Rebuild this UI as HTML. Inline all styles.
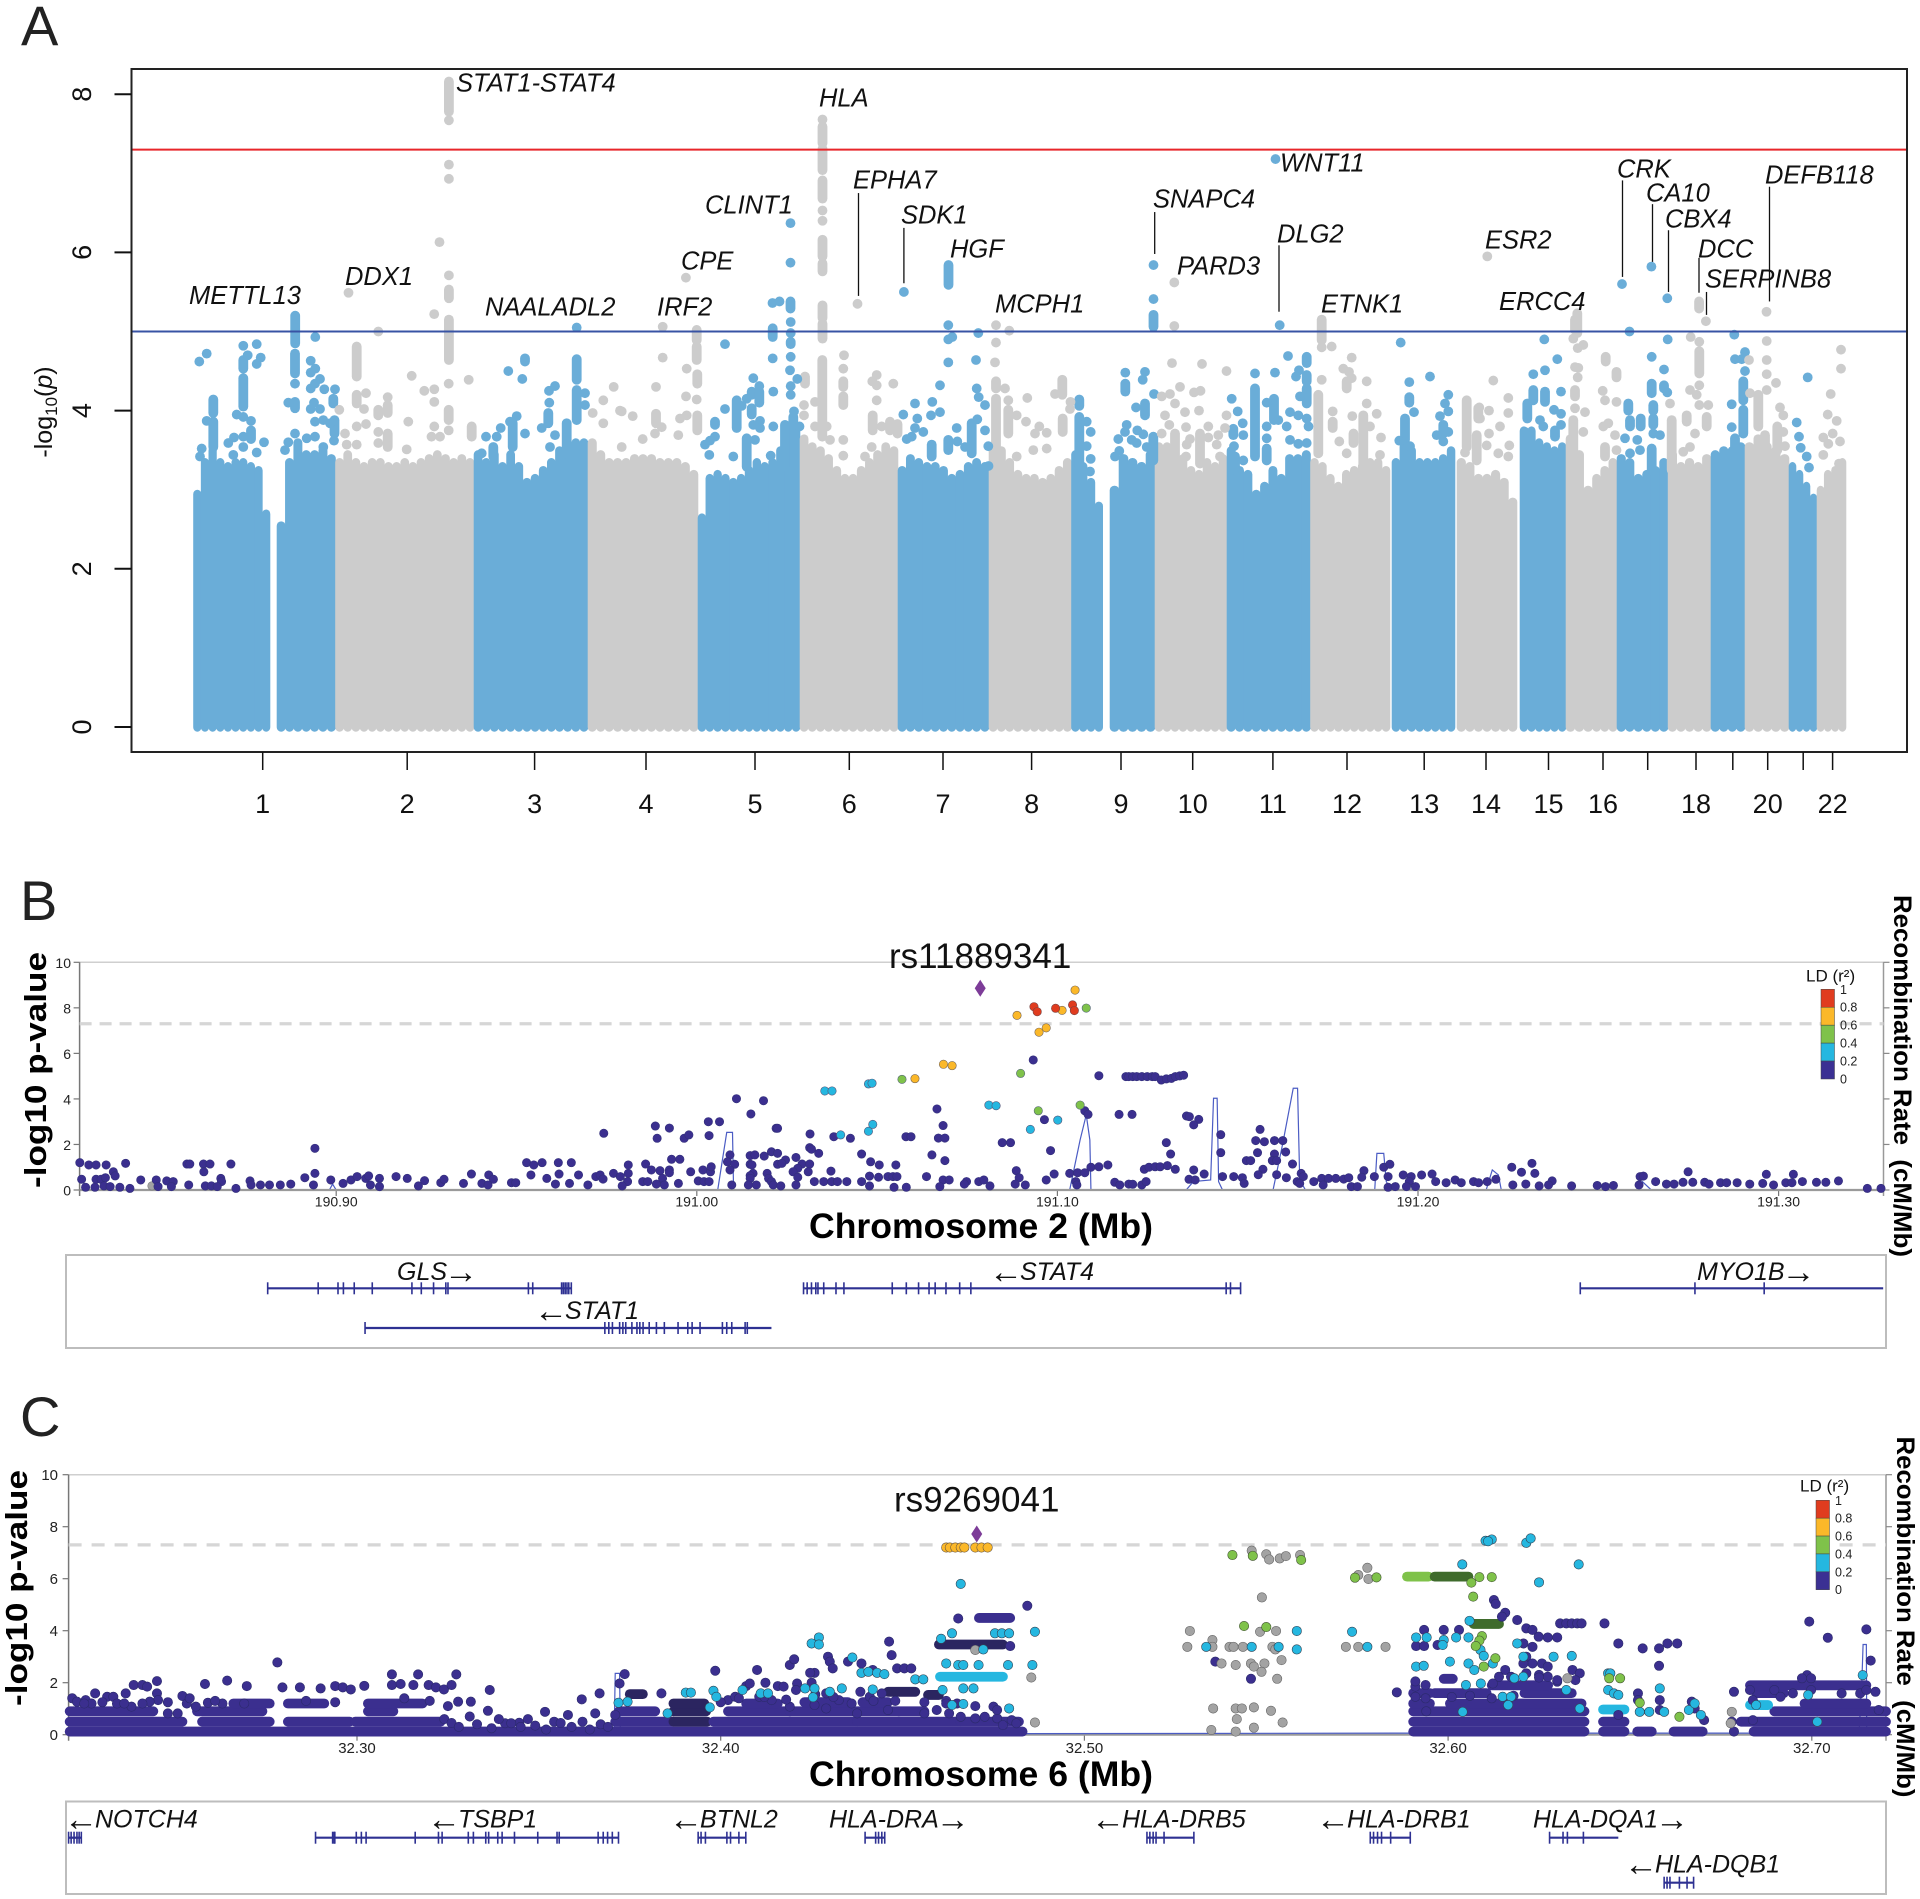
<!DOCTYPE html>
<html lang="en">
<head>
<meta charset="utf-8">
<title>GWAS Manhattan and regional association plots</title>
<style>
html,body{margin:0;padding:0;background:#fff;}
svg{display:block;font-family:"Liberation Sans",Arial,sans-serif;}
.gene{font-style:italic;font-size:25px;fill:#111;}
.arr{font-style:normal;font-size:34px;}
.hit{font-style:italic;font-size:25.5px;fill:#111;}
.bold{font-weight:bold;fill:#000;}
</style>
</head>
<body>
<svg id="fig" width="1920" height="1899" viewBox="0 0 1920 1899">
<rect x="0" y="0" width="1920" height="1899" fill="#fff"/>

<text x="21" y="45" font-size="56" fill="#222">A</text>
<text x="20" y="920" font-size="56" fill="#222">B</text>
<text x="20" y="1436" font-size="56" fill="#222">C</text>

<g id="panelA"></g>
<g id="panelALabels">
<text class="hit" x="456" y="91.7">STAT1-STAT4</text>
<text class="hit" x="189" y="304">METTL13</text>
<text class="hit" x="345" y="285">DDX1</text>
<text class="hit" x="485" y="315.7">NAALADL2</text>
<text class="hit" x="657" y="315.7">IRF2</text>
<text class="hit" x="681" y="269.3">CPE</text>
<text class="hit" x="705" y="213.3">CLINT1</text>
<text class="hit" x="819" y="106.7">HLA</text>
<text class="hit" x="853" y="188.3">EPHA7</text>
<text class="hit" x="901" y="223.3">SDK1</text>
<text class="hit" x="950" y="257.3">HGF</text>
<text class="hit" x="1280" y="171.7">WNT11</text>
<text class="hit" x="1153" y="207.3">SNAPC4</text>
<text class="hit" x="1177" y="274.3">PARD3</text>
<text class="hit" x="1277" y="242.3">DLG2</text>
<text class="hit" x="995" y="312.7">MCPH1</text>
<text class="hit" x="1321" y="312.7">ETNK1</text>
<text class="hit" x="1485" y="248.3">ESR2</text>
<text class="hit" x="1499" y="310">ERCC4</text>
<text class="hit" x="1617" y="177.7">CRK</text>
<text class="hit" x="1646" y="201.7">CA10</text>
<text class="hit" x="1665" y="227.7">CBX4</text>
<text class="hit" x="1698" y="257.7">DCC</text>
<text class="hit" x="1705" y="287.7">SERPINB8</text>
<text class="hit" x="1765" y="183.3">DEFB118</text>
</g>
<text transform="translate(52,412) rotate(-90)" text-anchor="middle" font-size="25" fill="#111">-log<tspan dy="5" font-size="17">10</tspan><tspan dy="-5">(</tspan><tspan font-style="italic">p</tspan>)</text>

<g id="panelB"></g>
<text x="889" y="968" font-size="35" fill="#111">rs11889341</text>
<text class="bold" transform="translate(46,1070) rotate(-90)" text-anchor="middle" font-size="31" textLength="236" lengthAdjust="spacingAndGlyphs">-log10 p-value</text>
<text class="bold" x="809" y="1238" font-size="35" textLength="344" lengthAdjust="spacingAndGlyphs">Chromosome 2 (Mb)</text>
<text class="bold" transform="translate(1894,1076) rotate(90)" text-anchor="middle" font-size="25" textLength="362" lengthAdjust="spacingAndGlyphs" xml:space="preserve">Recombination Rate  (cM/Mb)</text>
<rect x="66" y="1255" width="1820" height="93" fill="none" stroke="#bdbdbd" stroke-width="2"/>
<text class="gene" x="397" y="1280">GLS<tspan class="arr" dy="3" dx="-3">→</tspan></text>
<text class="gene" x="534" y="1319"><tspan class="arr" dy="3">←</tspan><tspan dy="-3" dx="-3">STAT1</tspan></text>
<text class="gene" x="989" y="1280"><tspan class="arr" dy="3">←</tspan><tspan dy="-3" dx="-3">STAT4</tspan></text>
<text class="gene" x="1697" y="1280">MYO1B<tspan class="arr" dy="3" dx="-3">→</tspan></text>

<g id="panelC"></g>
<text x="894" y="1511.7" font-size="35" fill="#111">rs9269041</text>
<text class="bold" transform="translate(27,1588) rotate(-90)" text-anchor="middle" font-size="31" textLength="236" lengthAdjust="spacingAndGlyphs">-log10 p-value</text>
<text class="bold" x="809" y="1786" font-size="35" textLength="344" lengthAdjust="spacingAndGlyphs">Chromosome 6 (Mb)</text>
<text class="bold" transform="translate(1897,1617) rotate(90)" text-anchor="middle" font-size="25" textLength="361" lengthAdjust="spacingAndGlyphs" xml:space="preserve">Recombination Rate  (cM/Mb)</text>
<rect x="66" y="1801.5" width="1820" height="92.5" fill="none" stroke="#bdbdbd" stroke-width="2"/>
<text class="gene" x="64" y="1827.3"><tspan class="arr" dy="3">←</tspan><tspan dy="-3" dx="-3">NOTCH4</tspan></text>
<text class="gene" x="427" y="1827.3"><tspan class="arr" dy="3">←</tspan><tspan dy="-3" dx="-3">TSBP1</tspan></text>
<text class="gene" x="669" y="1827.3"><tspan class="arr" dy="3">←</tspan><tspan dy="-3" dx="-3">BTNL2</tspan></text>
<text class="gene" x="829" y="1827.3">HLA-DRA<tspan class="arr" dy="3" dx="-3">→</tspan></text>
<text class="gene" x="1091" y="1827.3"><tspan class="arr" dy="3">←</tspan><tspan dy="-3" dx="-3">HLA-DRB5</tspan></text>
<text class="gene" x="1316" y="1827.3"><tspan class="arr" dy="3">←</tspan><tspan dy="-3" dx="-3">HLA-DRB1</tspan></text>
<text class="gene" x="1533" y="1827.3">HLA-DQA1<tspan class="arr" dy="3" dx="-3">→</tspan></text>
<text class="gene" x="1624" y="1872.3"><tspan class="arr" dy="3">←</tspan><tspan dy="-3" dx="-3">HLA-DQB1</tspan></text>
</svg>

<script>
/* ---------- Panel A: Manhattan ---------- */
const armChrom=[1,1,2,3,4,5,6,7,8,9,9,10,11,12,13,14,15,16,16,17,18,19,20,21,22];
const armStart=[0,83.5,142,280.5,394.5,504.5,606.5,704.5,795.5,878,916.5,961.5,1033.5,1117,1198.5,1263.5,1326.5,1372.5,1399,1423.5,1474.6,1517.5,1551.5,1595.5,1623.5];
const armEnd=[76.5,142,280.5,394.5,504.5,606.5,704.5,795.5,878,909.2,961.5,1033.5,1117,1196.5,1261.5,1323.5,1372.5,1399,1423.5,1474.6,1517.5,1551.5,1595.5,1623.5,1652.5];
const armDenseTop=[
[3.0,3.4,3.55,3.4,3.35,3.4,3.4,3.35,3.3,2.75],
[2.6,3.4,3.65,3.5,3.5,3.55,3.45],
[3.4,3.5,3.4,3.35,3.4,3.4,3.35,3.35,3.4,3.35,3.4,3.45,3.5,3.45,3.4,3.45,3.4],
[3.5,3.4,3.5,3.35,3.5,3.35,3.15,3.2,3.3,3.4,3.55,3.6,3.65,3.65],
[3.65,3.5,3.4,3.4,3.4,3.45,3.45,3.45,3.4,3.4,3.4,3.35,3.25],
[2.7,3.2,3.25,3.2,3.15,3.2,3.3,3.4,3.35,3.4,3.55,3.7,3.8],
[3.7,3.6,3.55,3.45,3.3,3.2,3.2,3.3,3.4,3.5,3.6,3.55],
[3.3,3.45,3.4,3.35,3.35,3.3,3.2,3.25,3.35,3.4,3.35],
[3.6,3.55,3.4,3.25,3.2,3.2,3.15,3.2,3.3,3.4],
[3.5,3.35,3.15,2.85],
[3.05,3.45,3.4,3.35,3.5],
[3.6,3.6,3.55,3.45,3.3,3.25,3.4,3.35,3.45],
[3.55,3.3,3.25,3.0,3.1,3.3,3.2,3.45,3.45,3.5],
[3.4,3.35,3.2,3.1,3.25,3.3,3.35,3.4,3.4,3.3],
[3.4,3.6,3.55,3.4,3.4,3.4,3.45,3.55],
[3.4,3.35,3.2,3.2,3.25,3.15,2.9],
[3.8,3.8,3.65,3.6,3.55,3.6],
[3.7,3.5,3.05],
[3.2,3.3,3.4],
[3.45,3.4,3.2,3.25,3.3,3.4],
[3.5,3.35,3.4,3.35,3.45],
[3.5,3.55,3.55,3.6],
[3.6,3.7,3.6,3.55,3.45],
[3.35,3.25,3.1,2.95],
[3.05,3.25,3.3,3.4]];

const snpPosTop=[155,246,240.7,492.4,579,586,664,710.4,960,960,980.8,1082,1293.8,1428.5,1457.9,1473.8,1512.4,1573,255.4,255.4,255.4,255.4,597,597,629,629,629];
const snpLogTop=[5.49,6.13,5.22,5.68,5.36,5.38,5.35,5.5,5.84,5.41,5.62,7.18,5.95,5.6,5.82,5.42,5.13,5.25,7.67,7.11,6.93,5.71,6.37,5.87,7.68,6.53,6.4];
const snpPosChr1=[5.8,13.2,49.8,63.2,54.2,67.2,63.2,13.2,43.2,49.8,57.5,49.8,40.5,34.8,70.5,63.2,49.8,39.8,8.2,6.5,101.5,94.8,121.8,117.2,121.8,117.2,126.5,121.5,117.2,130.8,141.5,120.5,117.2,126.5,121.5,129.8,136.5,140.5,101.5,94.8,113.2,121.5,129.8,91.5];
const snpLogChr1=[4.62,4.72,4.82,4.84,4.7,4.67,4.59,3.87,3.95,3.92,3.87,3.67,3.66,3.59,3.6,3.47,3.54,3.44,3.52,3.42,4.34,4.1,4.93,4.63,4.53,4.48,4.4,4.34,4.28,4.27,4.27,4.1,4.02,4.02,3.86,3.88,3.84,3.62,3.71,3.6,3.65,3.67,3.54,3.5];
const snpPosChr2=[184.8,172.5,170.5,194.2,163.2,172.5,184.8,184.8,218.2,230.8,240.8,240.8,255.2,275.2,214.8,240.8,255.2,238,246.5,151.5,145.8,213.2,163.2,153.2];
const snpLogChr2=[5,4.22,4.02,4.17,3.8,3.83,3.73,3.59,4.44,4.25,4.27,4.11,4.34,4.39,3.86,3.8,3.75,3.67,3.67,3.71,4.01,3.51,3.57,3.57];
const snpPosChr3=[314.8,328.8,383.2,361.5,355.5,355.8,391.5,391.5,323.2,316.5,307.2,331.5,292.5,303.2,348.2,361.5,356.5,288.2,420.2,409.8,399.2,426.5,409.8];
const snpLogChr3=[4.5,4.4,5.05,4.31,4.25,4.1,4.22,4.07,3.93,3.86,3.78,3.71,3.67,3.67,3.78,3.69,3.54,3.46,4.3,4.13,3.97,4,3.84];
const snpPosChr4=[469.2,469.2,493.2,462.5,492.5,503.2,428.2,439.2,493.2,486.5,468.2,461.5,484.8,449.2,428.2];
const snpLogChr4=[5.06,4.67,4.53,4.3,4.18,4.14,3.99,3.93,3.94,3.9,3.79,3.71,3.69,3.64,3.54];
const snpPosChr5=[531.5,579.2,597.2,597.2,597.2,596.5,603.8,597.2,597.2,579.8,559.8,553.2,531.5,548.2,566.5,559.8,566.5,579.8,521.5,516.5,511.5,515.8,561.5,539.8,577.2,600.5,606,565.8];
const snpLogChr5=[4.84,4.66,5.12,4.98,4.68,4.51,4.4,4.31,4.2,4.24,4.41,4.15,4.02,4.06,3.87,3.82,3.78,3.8,3.67,3.62,3.57,3.44,3.63,3.42,3.43,3.99,3.8,4.31];
const snpPosChr6=[621.5,633.2,621.5,610.5,610.5,650.5,649.8,683.2,678.8,683.2,699.8,683.2,688.2,649.8,649.8,636.5,678.2,671.5];
const snpLogChr6=[3.8,3.8,4.11,4.07,3.94,4.7,4.53,4.45,4.37,4.32,4.34,4.13,3.8,3.63,3.43,3.63,3.54,3.42];
const snpPosChr7=[709.8,721.5,738.8,746.5,746.5,737.5,723.8,721.5,718.2,713.2,729.8,754.8,754.8,758.8,784.8,754.8,782.5,783.2,785.2,791.5,763.2,763.8,771.5,783.8,791.5,794.8,795];
const snpLogChr7=[3.95,4.09,4.11,4.32,3.98,3.94,3.9,3.78,3.67,3.64,3.73,5.08,4.9,4.93,4.98,4.61,4.64,4.28,4.17,4.07,3.78,3.61,3.54,3.89,3.75,3.55,3.3];
const snpPosChr8=[802.5,815.8,802.5,801.5,811.5,814.8,823.2,833.8,832.5,845.8,841.5,853.2,839.8,853.2,823.2,861.5,877,876.5];
const snpLogChr8=[5.08,5.01,4.86,4.61,4.28,4.13,3.94,4.16,3.86,3.8,3.71,3.72,3.5,3.52,3.42,4.21,4.11,4.02];
const snpPosChr9=[893.2,897.2,893.2,897.2,896.5,931.8,951.5,949.2,960.5,942.5,933.2,931.5,943.8,949.8,924.8,938.2,953.2,943.2,925.8,921.5];
const snpLogChr9=[3.86,3.73,3.55,3.39,3.23,4.48,4.49,4.39,4.21,4.04,3.82,3.73,3.75,3.7,3.64,3.63,3.54,3.59,3.49,3.42];
const snpPosChr10=[980.8,978.5,1008.5,986.5,1000.5,1007,968.2,976.5,981.5,991.5,1005.5,971.5,992.5,975.8,1014.8,968.2,996.5,993.2,1014.8,992.5,1033,1033,1031.5,1024.8,1023.2,1026.5];
const snpLogChr10=[5.07,4.6,4.59,4.3,4.23,4.25,4.18,4.21,4.09,3.98,4,3.94,3.79,3.82,3.8,3.71,3.64,3.57,3.66,3.42,4.5,3.94,3.78,3.69,3.57,3.42];
const snpPosChr11=[1086.2,1094.5,1061.5,1081.5,1105.5,1102.5,1106.5,1038.2,1044.2,1049.2,1049.8,1040.5,1073.2,1084.8,1073.2,1073.2,1096.5,1104.8,1113.2,1093.2,1115,1096.5,1113.2,1104.8,1049.8];
const snpLogChr11=[5.08,4.69,4.47,4.48,4.51,4.43,4.18,4.15,3.99,3.84,3.69,3.55,4.1,3.88,3.8,3.65,3.98,3.94,3.9,3.8,3.8,3.63,3.59,3.58,3.37];
const snpPosChr12=[1128.2,1138.2,1158.2,1149.8,1155.5,1158.2,1173.2,1128.2,1139.2,1145.8,1173.2,1158.8,1183.2,1187.5,1176.5,1153.2,1186.5];
const snpLogChr12=[4.8,4.81,4.67,4.53,4.49,4.41,4.37,4.39,3.99,3.61,4.09,3.93,3.96,3.66,3.8,3.46,3.44];
const snpPosChr13=[1207.2,1236.5,1215.8,1220.5,1254.8,1251.5,1254.8,1246.5,1254.8,1243.2,1205.8,1216.5,1249.8];
const snpLogChr13=[4.86,4.43,4.36,3.98,4.2,4.09,3.99,3.93,3.73,3.69,3.62,3.55,3.61];
const snpPosChr14=[1299.8,1314.8,1285.8,1295.5,1314.8,1286.5,1306.5,1295.5,1293.2,1315.8,1304.8,1314.8,1271.5];
const snpLogChr14=[4.38,4.16,4.04,4,3.97,3.9,3.8,3.71,3.56,3.56,3.46,3.42,3.47];
const snpPosChr15=[1350.8,1363.8,1351.5,1339.8,1367.5,1360.5,1367.5,1346.5,1367.5,1331.5,1349.8];
const snpLogChr15=[4.9,4.65,4.51,4.46,4.24,4.01,3.96,3.88,3.82,3.73,3.8];
const snpPosChr16=[1379.8,1384.2,1389.8,1381.5,1384.8,1384.2,1391.5,1381.5,1389.8,1409.2,1411.5,1423,1409.8,1414.8,1421.5,1423];
const snpLogChr16=[4.91,4.79,4.83,4.55,4.54,4.42,3.98,4.03,3.73,4.25,4.13,4.11,3.8,3.84,3.69,3.5];
const snpPosChr17=[1436,1458.2,1470.5,1474.2,1473.8,1431.5,1443.8,1459.8,1466.5,1446.5,1436.5];
const snpLogChr17=[5,4.68,4.52,4.9,4.23,3.65,3.63,3.71,3.69,3.5,3.46];
const snpPosChr18=[1497.2,1505.8,1505.8,1496.5,1503.2,1505.8,1514.8,1476.5,1501.5,1489.8,1496.5];
const snpLogChr18=[4.93,4.87,4.32,4.26,4.2,4.07,4.07,4.09,3.71,3.48,3.54];
const snpPosChr19=[1540.8,1551.5,1541.5,1548.2,1551.5,1538.2,1538.2];
const snpLogChr19=[4.96,4.74,4.65,4.65,4.5,4.08,3.79];
const snpPosChr20=[1555.5,1573.2,1573.2,1573.2,1582.5,1573.2,1556.5,1586.5,1589.8,1589.8,1591.5];
const snpLogChr20=[4.64,4.88,4.64,4.46,4.35,4.26,4.22,4.04,3.94,3.73,3.55];
const snpPosChr21=[1614.2,1603.2,1605.5,1607.2,1613.2,1615.5];
const snpLogChr21=[4.42,3.85,3.67,3.53,3.42,3.28];
const snpPosChr22=[1647.5,1647.5,1637.2,1634.2,1643.2,1639.2,1629.8,1646.5,1634.8,1629.8,1645.5];
const snpLogChr22=[4.77,4.53,4.21,3.95,3.87,3.71,3.66,3.61,3.58,3.44,3.33];

const columnPosTop=[255.4,255.4,255.4,597,629,629,629,629,629,629,629,755,960,101.7,1128.2,1383.8,1505.6];
const columnHighTop=[8.16,5.53,5.15,5.38,7.59,7.31,6.91,6.16,5.86,5.33,5.1,5.84,5.21,5.2,5.15,5.23,5.38];
const columnLowTop=[7.78,5.42,4.64,5.29,7.38,7.04,6.68,5.95,5.76,5.17,4.91,5.59,5.06,4.85,4.89,4.98,5.29];
const columnPosWest=[49.8,49.8,19.8,19.8,57.5,101.5,101.5,139.8,163.2,163.2,194.2,184.8,194.2,255.2,278.2,331.5,383.2,354.8,383.2,319.2,299.8,373.2,141];
const columnHighWest=[4.64,4.41,4.14,3.86,3.75,4.72,4.11,4.15,4.81,4.2,4.07,4.01,3.71,4.01,3.8,4.66,4.65,3.97,4.26,3.84,3.54,3.84,3.88];
const columnLowWest=[4.53,4.05,3.97,3.54,3.64,4.47,4.03,4.09,4.43,4.09,3.97,3.94,3.54,3.88,3.67,4.62,4.39,3.84,3.88,3.54,3.42,3.46,3.71];
const columnPosMid=[503.2,503.2,503.8,462.5,503.8,579.2,597.2,558.2,565.8,543.2,558.2,521.5,553.2,599.8,591.5,628.8,611.5,649.8,649.8,679.2,696.5,704,738.2,754.8,778.2,802.5,802.5,814.8];
const columnHighMid=[5.02,4.81,4.46,3.96,3.94,5.04,4.87,4.24,4.24,4.13,4.03,3.86,3.65,3.92,3.82,4.64,4.43,4.37,4.18,3.94,3.86,3.83,3.57,3.63,3.84,4.37,4.15,4.01];
const columnLowMid=[4.89,4.64,4.34,3.84,3.75,4.93,4.84,4.2,4.1,3.78,3.95,3.82,3.29,3.29,3.29,3.67,4.34,4.3,4.07,3.75,3.75,3.71,3.42,3.5,3.46,4.28,3.25,3.71];
const columnPosEast=[868.8,869.2,885.8,885.8,931.8,951.5,959.8,981.5,1006.5,1039.8,1061.5,1080.5,1073.2,1041.5,1113.2,1113.2,1113.2,1124.8,1139.2,1153.2,1169.8,1160,1215.8,1249.8,1211.5,1273.2,1284.8];
const columnHighEast=[4.39,3.9,4.14,3.92,4.34,4.09,3.67,3.71,3.71,3.77,4.28,4.15,3.52,3.42,4.68,4.45,4.28,4.2,3.86,4.37,3.94,3.71,4.17,3.82,3.9,4.13,4.03];
const columnLowEast=[4.2,3.73,4.06,3.29,4.24,3.94,3.37,3.25,3.33,3.69,3.42,3.88,3.37,3.25,4.6,4.37,4.09,3.46,3.78,4.28,3.25,3.59,4.1,3.71,3.63,3.54,3.9];
const columnPosFar=[1283.2,1339.8,1351.5,1333.8,1361.5,1381.5,1381.5,1379.8,1412.2,1423,1411.5,1458.2,1470.5,1434.8,1436.5,1447.2,1459.8,1459.8,1458.2,1505.8,1493.2,1513.2,1478.2,1549.8,1549.8,1541.5,1564.8,1571.5,1583.8];
const columnHighFar=[3.69,4.26,4.24,4.09,3.75,5.15,4.26,3.88,4.68,4.49,3.54,4.34,4.32,4.09,3.88,3.9,4.07,3.9,3.52,4.75,3.94,3.92,3.88,4.37,4.01,3.65,4.2,3.69,3.8];
const columnLowFar=[3.37,4.13,4.11,3.9,3.67,5.02,4.18,3.37,4.62,4.42,3.42,4.22,4.28,4,3.8,3.8,4,3.82,3.25,4.47,3.86,3.8,3.25,4.13,3.71,3.54,3.8,3.46,3.5];

const chromTickPos=[69.2,213.7,341.1,452.5,561.5,655.8,749.5,838.1,927.5,999.2,1079.4,1153.5,1230.7,1292.5,1355,1409.5,1454.2,1502.5,1539.3,1574.2,1609.7,1639.1];
const chromTickLabels=['1','2','3','4','5','6','7','8','9','10','11','12','13','14','15','16','','18','','20','','22'];
const manhattanYTicks=[0,2,4,6,8];
const genomeWideLine=7.3;
const suggestiveLine=5;
const leaderPos=[665,710.4,961.2,1085.5,1429,1459,1475,1505.5,1513,1576];
const leaderTop=[6.75,6.31,6.51,6.09,6.91,6.61,6.28,5.93,5.5,6.83];
const leaderBottom=[5.45,5.61,5.98,5.25,5.69,5.88,5.5,5.49,5.21,5.38];

/* ---------- Panel B: chr2 regional plot; positions in kb from 190.90 Mb ---------- */
const bTickKb=[0,100,200,300,400];
const bTickLabels=['190.90','191.00','191.10','191.20','191.30'];
const logTicks=[0,2,4,6,8,10];
const bNavyKb=[-71.1,-68.6,-66.6,-63.8,-58.4,-61.8,-61.3,-70.6,-66.6,-65.2,-64,-54.2,-49.9,-47,-45.2,-41.4,-40.6,-36.8,-35,-36.7,-29.2,-32,-31.8,-69.5,-66.9,-64.4,-62.7,-60,-57.2,-49.4,-45.7,-40.9,-36.3,-34.6,-33,-27.8,-5.9,-5.9,-8.7,-1.5,-6.3,-12.6,-15.5,-18.5,-21,-23.9,-23.6,1.9,4.1,5.8,8.2,9,12,9.5,12,16.6,19.7,24.5,22.8,29,29.9,35.3,37.5,40.4,42.3,43.6,42.1,48.6,49.8,52.8,54.8,57.1,54,58.4,61.8,60.8,61.6,65.2,67.2,64.7,69.8,72,73.2,74,76.9,78.8,81,81,80.8,79.3,74.2,85.8,87.4,89.8,92.4,92.4,90.5,88.8,85,86.4,94.9,88.5,92.4,89,96.5,97.8,93,95.3,98.3,101.7,103.8,104,100.4,102,103.4,91,103.2,106.3,103.4,111,118.5,115,122,122.4,109.2,108.5,110.5,109.2,114.8,116.1,114.8,115.3,118.7,120.7,122.4,124.6,122.4,123.6,115.6,114.8,114.8,119.5,119.9,120.7,109.7,114.3,116.5,121.2,127.5,129.2,131.3,128,126.7,130.9,128,131.4,131.3,131.8,133.8,132.6,135.2,137.4,139,141.6,145.7,137.2,147.9,150.4,153,154.4,155.5,148.2,150.6,155.2,145.7,138,142.6,158,159.4,166.6,168.3,167,168.8,165.2,168.8,163.7,168.3,170,127.5,123.3,147.9,154.7,158.1,167.4,174.8,178.2,179.6,181.3,174.2,193.3,211.5,219,219.8,220.9,222,223.4,224.9,226.3,227.1,228.8,230.2,231.6,232.7,233.9,235,207.6,208.5,217.1,220.7,196.4,235.8,236.6,239.2,237.8,184.7,187,198.1,188.6,189.4,188.3,191.1,196.9,199.1,203.4,205.6,207.6,209.3,211.5,214,205.1,205.4,224.1,225.4,227.1,228.5,230.5,232.7,230.2,231.4,215.9,217.3,219.8,220.9,223.4,224.6,237.8,236.5,238.2,240.7,245.8,248.9,251.3,251.8,245.3,245.3,252.4,253.6,256.2,255,257.4,260.2,262.5,255.5,260.2,263.3,259.6,260.8,265.2,257,255.7,260.8,263.5,266.5,267.6,268.2,267.2,271.1,273.3,275.2,277.2,279.4,280.8,273.7,285,284.4,287.9,290.5,292.2,291.7,295.9,298.1,297.6,301,303.9,304.9,307.8,310.3,312,315.4,316.8,319.2,321.6,326,328.7,331.6,332.4,326.3,329.9,333.6,337.2,336.2,342.6,349.7,352,354.2,361.6,362.5,361.3,365.9,368.9,371,373.5,374.9,376.2,379.5,380.7,383.9,385.6,388.5,392,395.6,396.6,398.6,402,404.1,403.7,406.6,410.5,413.1,416.6,424.6,428.4,281.5,283.2,291.7,293.7,296.8,299.3];
const bNavyLog=[1.2,1.1,1.1,1.1,1.17,.8,.62,.47,.47,.47,.54,.44,.44,.4,.37,1.14,1.14,1.14,1.14,.8,1.14,.51,.37,.12,.12,.18,.15,.12,.07,.15,.15,.22,.18,.18,.15,.07,1.83,.73,.54,.44,.22,.26,.22,.22,.22,.4,.22,.29,.44,.59,.51,.62,.51,.22,.15,.59,.51,.41,.18,.32,.47,.29,.7,.29,.66,.47,.22,.32,.32,1.2,1.1,1.2,.66,.51,.7,.26,1.2,1.2,.66,.29,.22,.59,.66,.48,.73,.59,1.1,.73,.37,.18,2.49,1.14,.88,.85,.88,.76,.51,.26,.37,.37,.29,2.81,2.72,2.27,2.27,2.42,1.35,1.35,.8,.88,.8,1.02,.4,.37,.37,.22,3,3,2.39,4.01,3.92,3.34,2.71,2.71,1.54,1.24,1.13,.88,1.51,1.54,1.13,1.1,1.49,1.68,1.61,1.32,1.13,1.17,.73,.63,.51,.73,.51,.37,.22,.22,.22,.22,1.43,1.14,1.14,.95,.8,.8,.56,2.46,1.86,1.79,1.61,.37,.37,.37,.37,.37,.37,.83,.61,.56,.59,.59,.59,1.24,1.1,1.1,1.58,2.34,2.27,2.34,2.34,3.56,2.83,2.28,2.28,1.54,1.29,.59,.44,.44,.22,.18,.18,.12,.12,.15,.37,.37,.44,.18,.26,5.71,5.02,4.98,4.98,4.98,4.98,4.98,4.98,4.98,4.98,4.83,4.88,4.9,4.98,5.01,5.04,3.48,3.32,3.32,3.32,3.09,3.25,3.22,3.1,2.86,2.08,2.08,1.73,.85,.54,.26,.22,.44,.7,.73,.76,.76,1,1.02,1.1,.37,.22,.91,1,1.02,1.02,1.07,.91,2.08,1.58,.34,.22,.26,.25,.22,.37,.88,.47,.44,.7,.59,.59,.54,.29,2.43,1.64,1.29,1.29,2.66,2.17,2.12,2.17,2.17,1.64,1.58,1.67,1.29,1.29,1.14,.91,.67,.67,.54,.37,.73,.59,.29,.37,.51,.51,.51,.48,.54,.22,.85,.56,.59,1,1.13,.59,.66,.59,.37,.66,.7,.37,.32,.44,.32,.37,.32,.37,.47,1,.78,1.17,.73,.22,.26,.18,.4,.22,.18,.2,.15,.2,.59,.61,.22,.37,.26,.26,.34,.8,.34,.34,.26,.32,.32,.32,.26,.29,.69,.22,.32,.69,.32,.37,.34,.34,.4,.07,.07,.15,.15,.12,.15,.15,.15];
const bGreyKb=[-51.1];
const bGreyLog=[.18];
const bCyanKb=[135.5,137.5,147.6,148.6,139.9,147.6,148.8,181,183,192.5,200.1];
const bCyanLog=[4.35,4.35,4.66,4.69,2.42,2.58,2.88,3.73,3.7,2.66,3.07];
const bGreenKb=[156.9,208,189.8,206.3,194.7];
const bGreenLog=[4.86,7.99,5.12,3.73,3.48];
const bOrangeKb=[160.5,168.4,170.8,188.8,201.3,204.9,194.9,196.9];
const bOrangeLog=[4.89,5.52,5.46,7.67,7.89,8.78,6.93,7.12];
const bRedKb=[193.5,194.4,199.5,204.2,204.7];
const bRedLog=[8.05,7.83,7.98,8.13,7.88];
const bLeadKb=[178.6];
const bLeadLog=[8.86];
const bRecKb=[-71,-1.9,-1,0,105.8,108.3,109.9,110.2,203.4,206.3,208,209,209.3,235.7,237.7,242.5,243.3,244.3,244.7,245.8,259.8,262.5,265.4,266.6,267.2,268.8,288,288.6,290.5,291.2,292.5,318.9,320.6,322.3,323.1,360.5,362.2,364.7,429];
const bRecRate=[0,0,2.6,0,0,25.3,25.3,0,0,22,33,22,0,0,3.7,4.4,40.3,40.3,3.7,0,0,20.5,44.7,44.7,4.4,0,0,16.1,16.1,3.7,0,0,8.8,6.6,0,0,3.7,0,0];
const bGeneStart=[-19,8,129.6,345];
const bGeneEnd=[65.2,120.7,250.8,429];
const bGeneY=[1288.3,1328,1288.3,1288.3];
const bGeneExons=[
[-19,-5,0.5,2,5,10,21,23.6,27,30.4,31,53.3,54.5,62.5,63,63.5,64,64.5,65.2],
[8,74.5,75.6,76.6,78.6,79.5,80.3,82,83.4,84.2,85.1,86.8,88.8,91,94.8,97.5,98.7,100.9,107.1,108.3,109.7,113.4,114],
[129.6,130.6,131.8,133,133.6,135.2,138.6,140.8,154.2,158.1,161.5,164.4,166.1,169.1,172.9,176,246.8,248,250.8],
[345,376.8,396]];

/* ---------- Panel C: chr6 regional plot; positions in kb from 32.30 Mb ---------- */
const cTickKb=[0,100,200,300,400];
const cTickLabels=['32.30','32.40','32.50','32.60','32.70'];
const cRunStart=[-79,290.4,342.6,352,362,384,-79,-42.6,-19,-0.5,71,87,98,137.5,166,290.4,342.6,380.5,-79,-44,3,72,87,102,119,149,290.4,389.7,-34,-19,3,87,107,123,139,290.4,75,146,157,300.5,398,296.3,290.4,321,384.7,383,312,298.8,160,171,383,342.6,160.3,288.7,296.3,307];
const cRunEnd=[183,337.5,348.5,356,370,420.4,-48,-24,-2,23,87,96.3,137.5,166,182,337.5,348.5,420.4,-56,-26,10,82,96,119,149,156,337.5,420.4,-24,-9,18,95.5,115.7,135,146,295,78.6,153.5,160,336.7,415,310.6,295,334,392.3,415,327.5,301.3,177.6,179.6,388,348.5,177.6,294.6,305.6,314];
const cRunLog=[.12,.12,.12,.12,.12,.12,.5,.5,.5,.5,.5,.5,.5,.5,.5,.5,.5,.5,.9,.9,.9,.9,.9,.9,.9,.9,.9,.9,1.2,1.2,1.2,1.2,1.2,1.25,1.25,1.2,1.56,1.65,1.53,1.2,1.2,1.6,1.6,1.6,1.6,1.9,1.9,2.15,3.47,4.49,1.14,.97,2.23,6.08,6.08,4.26];
const cRunLdClass=[0,0,0,0,0,0,0,0,0,0,0,1,0,0,0,0,0,0,0,0,0,0,1,0,0,0,0,0,0,0,0,1,0,0,0,0,1,1,1,0,0,0,0,0,0,0,0,0,1,0,2,2,2,3,4,4];
const cNavyKb=[-78.3,-77,-74.6,-72,-68.7,-67,-63.6,-61.4,-59,-57.7,-55,-55,-54.7,-73,-66,-62,-57,-52,-49.3,-48,-46.8,-41.8,-44.3,-41,-37,-35.7,-30.3,-21.9,-20.5,-15.7,-10,-6,-3.9,-1.7,2,9.6,16.8,9.6,12,15.5,19.7,21.7,23.9,26,27.3,36.5,27.8,31.3,36,40.7,44.6,42.4,51.7,58,65.5,66.7,61.8,54.2,73.6,72.2,83.7,71,98.5,110,119,120.2,129.5,130,130.8,135,138.7,141.8,147,146.3,148.5,150.5,152.4,125.8,124.6,107,108,112.3,115.7,117.3,121,125,102,104,120.7,110.6,114,129,132.5,138.4,141,144.3,136,125.8,119,146,156,159.4,137.5,129,162.8,184.3,175,172.6,176,180,166,170,177.6,181.3,165.3,285.9,291,293.8,291,293.8,321.5,323.2,325.8,327.4,320.7,327.4,321.5,325,334.2,336.2,330,315.7,314,312.3,317.3,346.8,352.2,352.2,358.2,358.2,367,367.8,370.4,378.6,378,378.6,383,383.8,383.8,417.5,418.4,389.7,394.8,398.7,397.3,399.8,399.8,391.4,408.2,413.3,415,236,245.8,293.4,298.8,303,321.5,323.2,291.2,293.4,297.1,324.9,327.4,330,320.7,323.2,330.8,332.5,334,335.5,336.7,343,399.3,415,404.4,346.8,353.5,358,360.3,363,358,416.2,312.6,313.1,315.7,314.8,319,179.6,165,170,162,176,24,26,28,31,33,37,39,45,47,49,52,56,59,62,64,67,69,-75,-70,-64,-59,-52,-46,-39,-31,-14,-6,13,20,25,100,105,112,118,126,131,142,148,156,162,301,306,312,318,325,330,335,291,294];
const cNavyLog=[1.4,1.27,1.33,1.59,1.46,1.46,1.59,1.91,1.91,1.85,2.06,1.59,1.33,1.2,1.2,1.08,1.27,.82,.82,1.49,1.2,1.95,1.08,1.23,1.2,2.08,1.87,2.78,1.82,1.82,1.78,1.87,1.82,1.74,1.88,2.32,2.32,1.91,1.95,1.91,1.91,1.82,1.74,1.91,2.32,1.72,1.27,1.27,.92,.44,.46,.44,.88,.76,.82,1.59,1.36,.5,2.33,1.97,1.59,.76,2.46,2.49,2.68,2.9,3,2.81,2.55,2.81,2.74,2.49,3.06,3.58,2.55,2.55,2.55,2.38,2.38,1.87,1.97,2,1.87,1.85,1.97,2,1.33,1.46,1.72,1.46,1.33,1.59,1.33,1.65,1.46,1.59,1.2,1.14,1.08,.95,.82,.95,.82,1.01,.82,4.96,1.08,.69,.63,.56,.69,.63,.37,.44,4.47,1.63,1.85,1.91,1.46,1.4,3,2.74,2.74,2.62,2.74,2.23,2.36,2.3,2.49,2.36,2.04,2.49,2.23,1.97,2.23,.76,1.59,1.33,1.33,.95,1.27,1.01,.56,1.65,.5,.12,1.72,1.33,.56,1.65,.95,1.72,1.59,2.29,2.17,2.17,1.72,1.46,1.59,1.59,1.72,2.81,2.15,4.03,4.03,4.03,4.09,4.03,3.41,3.41,3.45,3.77,3.74,3.74,3.51,3.38,4.28,4.28,4.28,4.28,4.28,4.28,4.35,4.05,3.73,3.51,3.32,3.32,3.51,3.51,2.65,2.85,5.18,5.03,4.69,4.54,4.41,3.41,1.2,1.1,1.3,.95,.6,.45,.3,.7,.4,.25,.6,.3,.6,.35,.2,.45,.3,.5,.2,.4,.3,1.2,1.25,1.2,1.2,1.25,1.4,1.3,1.2,1.3,1.25,1.4,1.3,1.1,1.25,1.4,1.45,1.35,1.55,1.45,1.3,1.3,1.25,1.2,1.45,1.5,1.4,1.5,2.2,2.1,2.1,2.05,.9,1.1];
const cGreyKb=[246,250,250.8,253.7,255.4,259.3,248.8,248.3,252.7,229,228.3,235.2,235.2,239.9,241,243.6,251.7,252.5,237.7,241.6,245.8,246.6,249.5,254.2,248.7,253,235.4,241.6,243.3,246.6,251.3,241.9,254.5,234.9,241.6,246.6,275.3,277.8,278.1,271.9,275.3,282.8,170,185.4,186.4,378,377.7,332.8];
const cGreyLog=[7.08,6.94,6.74,6.78,6.87,6.91,5.28,3.96,3.99,3.99,3.38,3.64,3.38,3.38,3.38,3.38,3.38,3.28,2.74,2.68,2.74,2.62,2.74,2.87,2.42,2.15,1.01,1.01,1.01,1.05,.92,.6,.47,.18,.12,.27,6.14,6.42,5.99,3.38,3.38,3.38,3.26,2.2,.47,.88,.44,2.17];
const cCyanKb=[125,127,127,153.5,155.7,123.2,125.8,133.3,130,125.4,138.7,140.6,143,145,136.2,106,111,113,141.8,90.4,91.8,98,98.8,97,85.4,71.9,74.4,166,163.6,160.6,162,165.3,161,163.6,175.4,177.3,179.3,186.4,172.2,166.7,170.9,179,185.7,166.7,169.5,179.3,166.7,258.4,233.5,246,253.4,258.4,273.6,277.8,303.9,335.9,325,310.3,312,311,321.5,322.7,305.9,291.2,294.1,298.8,302.2,305.6,298.5,308.9,309.8,300.5,305.6,329,334,320.7,319,291.2,293.3,318.2,320.7,307.2,312.3,309,304.9,315,317.3,316.5,304,332.5,336.2,344,344.6,344,345.6,346.8,358.2,352.7,355.3,359.4,366.2,367.8,369.5,414,399,401.5,384.7];
const cCyanLog=[3.51,3.74,3.47,2.13,2.13,1.78,1.78,1.78,1.65,1.44,2.38,2.42,2.38,2.33,2.97,1.72,1.59,1.59,1.74,1.62,1.62,1.69,1.46,1.05,.82,1.23,1.27,5.8,3.9,3.69,2.74,2.68,1.72,1.14,3.9,3.9,3.9,3.96,3.28,2.68,2.68,2.68,2.68,1.78,1.78,1.01,1.18,3.99,3.38,3.38,3.38,3.28,3.96,3.38,6.55,6.55,5.86,7.46,7.51,7.44,7.38,7.55,4.38,3.74,3.74,3.64,3.74,3.74,3.45,3.26,3.03,2.81,2.74,3,3.03,3,3.51,2.62,2.65,2.17,2.23,2.49,2.74,1.97,1.91,1.46,1.46,1.14,.88,1.72,1.01,2.36,2.36,1.72,1.59,1.53,1.78,.88,.88,.88,.95,1.2,.76,2.29,1.53,.5,1.14];
const cGreenKb=[240.7,246.3,259.6,274.4,280.3,308.6,312,243.9,250,309.3,308.6,307.6,313,309.8,344.3,347.3,352.7,363.6,306.4,306.9];
const cGreenLog=[6.91,6.88,6.72,6.04,6.05,6.06,6.06,4.18,4.14,3.79,3.62,3.41,2.94,2.62,2.17,2.17,1.23,.69,5.85,5.31];
const cOrangeKb=[162,163,164.5,166,167,170,171.7,173.4];
const cOrangeLog=[7.2,7.2,7.2,7.2,7.2,7.2,7.2,7.2];
const cLeadKb=[170.4];
const cLeadLog=[7.72];
const cRecKb=[-79,70.7,71,72.2,72.4,183,290,413,413.8,414.1,415,415.1,420];
const cRecRate=[0.4,0.4,23.6,23.6,0.4,0.4,0.6,0.6,22,34.7,34.7,0.4,0.4];
const cGeneStart=[-79.3,-11.4,93.8,139.7,217.2,278.6,327.9,359.4];
const cGeneEnd=[-75.8,71.9,106.9,145.1,230.1,289.6,346.8,367.5];
const cGeneY=[1837.7,1837.7,1837.7,1837.7,1837.7,1837.7,1837.7,1882.7];
const cGeneExons=[
[-79.3,-78.6,-77.8,-77,-76.4,-75.8],
[-11.4,-6.7,-6.3,-6.1,-0.2,1.2,2.5,16,22.4,23.4,30.6,32,35.4,36.2,38.7,39.9,43.3,49.7,55,55.6,66.3,67.7,68.9,70.2,71.9],
[93.8,94.6,95.8,101.7,102.7,105,106.9],
[139.7,142.6,143.4,144.3,145.1],
[217.2,218,218.9,219.7,221.9,230.1],
[278.6,279.5,280.6,281.7,284.2,289.6],
[327.9,331.6,332.8,337.2],
[359.4,360.2,361,363.6,365.7,367.5]];

/* ---------- Legend ---------- */
const ldColors=['#e03c1f','#fbb829','#7fc24a','#25b7e0','#3b3093'];
const ldLabels=['1','0.8','0.6','0.4','0.2','0'];

/* ---------- Axis functions ---------- */
const xA=u=>193.5+u;
const yA=v=>727-79.1*v;
const xB=k=>336.2+3.606*k;
const yB=v=>1190-22.77*v;
const recB=r=>1190-2.277*r;
const xC=k=>357+3.637*k;
const yC=v=>1734.7-26*v;
const recC=r=>1734.7-2.6*r;

const svgNS=document.getElementById('fig').namespaceURI;
function make(tag,parent){const el=document.createElementNS(svgNS,tag);parent.appendChild(el);return el;}
function put(el,a){for(const k in a)el.setAttribute(k,a[k]);return el;}

/* Panel A */
const pa=document.getElementById('panelA');
const CHROM_BLUE='#6aadd8',CHROM_GREY='#cccccc';
function chromColor(n){return n%2===1?CHROM_BLUE:CHROM_GREY;}
function colorAt(u){for(let i=0;i<armStart.length;i++){if(u>=armStart[i]&&u<=armEnd[i])return chromColor(armChrom[i]);}return CHROM_GREY;}
armDenseTop.forEach((levels,i)=>{
  const w=(armEnd[i]-armStart[i])/levels.length;
  levels.forEach((lv,j)=>{
    const el=make('rect',pa);
    put(el,{x:xA(armStart[i]+j*w)-0.3,y:yA(lv),width:w+0.6,height:yA(-0.06)-yA(lv),rx:4.5,ry:4.5,fill:chromColor(armChrom[i])});
    
    
  });
});
const columnPos=[].concat(columnPosTop,columnPosWest,columnPosMid,columnPosEast,columnPosFar);
const columnHigh=[].concat(columnHighTop,columnHighWest,columnHighMid,columnHighEast,columnHighFar);
const columnLow=[].concat(columnLowTop,columnLowWest,columnLowMid,columnLowEast,columnLowFar);
columnPos.forEach((u,i)=>{
  const el=make('line',pa);
  put(el,{x1:xA(u),x2:xA(u),y1:yA(columnHigh[i]),y2:yA(columnLow[i]),stroke:colorAt(u),'stroke-width':9.8,'stroke-linecap':'round'});
  
  
});
const snpPos=[].concat(snpPosTop,snpPosChr1,snpPosChr2,snpPosChr3,snpPosChr4,snpPosChr5,snpPosChr6,snpPosChr7,snpPosChr8,snpPosChr9,snpPosChr10,snpPosChr11,snpPosChr12,snpPosChr13,snpPosChr14,snpPosChr15,snpPosChr16,snpPosChr17,snpPosChr18,snpPosChr19,snpPosChr20,snpPosChr21,snpPosChr22);
const snpLog=[].concat(snpLogTop,snpLogChr1,snpLogChr2,snpLogChr3,snpLogChr4,snpLogChr5,snpLogChr6,snpLogChr7,snpLogChr8,snpLogChr9,snpLogChr10,snpLogChr11,snpLogChr12,snpLogChr13,snpLogChr14,snpLogChr15,snpLogChr16,snpLogChr17,snpLogChr18,snpLogChr19,snpLogChr20,snpLogChr21,snpLogChr22);
snpPos.forEach((u,i)=>{
  const el=make('circle',pa);
  put(el,{cx:xA(u),cy:yA(snpLog[i]),r:4.9,fill:colorAt(u)});
  
  
});
leaderPos.forEach((u,i)=>{
  const el=make('line',pa);
  put(el,{x1:xA(u),x2:xA(u),y1:yA(leaderTop[i]),y2:yA(leaderBottom[i]),stroke:'#111','stroke-width':1.3});
  
  
});
{
  const red=make('line',pa);
  put(red,{x1:131.5,x2:1907,y1:yA(genomeWideLine),y2:yA(genomeWideLine),stroke:'#e8262a','stroke-width':2});
  
  
  const blue=make('line',pa);
  put(blue,{x1:131.5,x2:1907,y1:yA(suggestiveLine),y2:yA(suggestiveLine),stroke:'#3853a4','stroke-width':2});
  
  
  const frame=make('rect',pa);
  put(frame,{x:131.5,y:69,width:1775.5,height:683,fill:'none',stroke:'#222','stroke-width':2});
  
  
}
manhattanYTicks.forEach(v=>{
  const t=make('line',pa);
  put(t,{x1:114.5,x2:131.5,y1:yA(v),y2:yA(v),stroke:'#111','stroke-width':2});
  
  
  const l=make('text',pa);
  put(l,{transform:'translate(91,'+yA(v)+') rotate(-90)','text-anchor':'middle','font-size':27,fill:'#111'});
  l.textContent=String(v);
  
  
});
chromTickPos.forEach((u,i)=>{
  const t=make('line',pa);
  put(t,{x1:xA(u),x2:xA(u),y1:752,y2:770,stroke:'#111','stroke-width':1.5});
  
  
  if(chromTickLabels[i]){
    const l=make('text',pa);
    put(l,{x:xA(u),y:813,'text-anchor':'middle','font-size':27,fill:'#111'});
    l.textContent=chromTickLabels[i];
    
    
  }
});

/* Shared regional plot drawing */
const NAVY='#3b2f8f';
function drawDots(g,kb,log,xf,yf,fill,stroke,r){
  kb.forEach((k,i)=>{
    const el=make('circle',g);
    put(el,{cx:xf(k),cy:yf(log[i]),r:r,fill:fill,stroke:stroke,'stroke-width':0.6});
    
    
  });
}
function drawDiamond(g,kb,log,xf,yf){
  kb.forEach((k,i)=>{
    const x=xf(k),y=yf(log[i]);
    const el=make('polygon',g);
    put(el,{points:(x-5.5)+','+y+' '+x+','+(y-8.5)+' '+(x+5.5)+','+y+' '+x+','+(y+8.5),fill:'#7d3c98'});
    
    
  });
}
function drawFrame(g,left,right,xf,yf,ticksKb,tickLabels,labelEnd,labelY,fontSize,dash){
  const top=make('line',g);
  put(top,{x1:left,x2:right,y1:yf(10),y2:yf(10),stroke:'#cfcfcf','stroke-width':1.5});
  
  
  const ax=make('line',g);
  put(ax,{x1:left,x2:left,y1:yf(10),y2:yf(0)+6,stroke:'#777','stroke-width':1.5});
  
  
  const rx=make('line',g);
  put(rx,{x1:right,x2:right,y1:yf(10),y2:yf(0)+6,stroke:'#999','stroke-width':1.5});
  
  
  logTicks.forEach(v=>{
    const t=make('line',g);
    put(t,{x1:left-6,x2:left,y1:yf(v),y2:yf(v),stroke:'#777','stroke-width':1.2});
    
    
    const t2=make('line',g);
    put(t2,{x1:right,x2:right+6,y1:yf(v),y2:yf(v),stroke:'#888','stroke-width':1.2});
    
    
    const l=make('text',g);
    put(l,{x:labelEnd,y:yf(v)+5.5,'text-anchor':'end','font-size':fontSize,fill:'#222'});
    l.textContent=String(v);
    
    
  });
  ticksKb.forEach((k,i)=>{
    const t=make('line',g);
    put(t,{x1:xf(k),x2:xf(k),y1:yf(0),y2:yf(0)+6,stroke:'#777','stroke-width':1.2});
    
    
    const l=make('text',g);
    put(l,{x:xf(k),y:labelY,'text-anchor':'middle','font-size':fontSize,fill:'#222'});
    l.textContent=tickLabels[i];
    
    
  });
  const d=make('line',g);
  put(d,{x1:left,x2:right,y1:yf(7.3),y2:yf(7.3),stroke:'#d6d6d6','stroke-width':3.2,'stroke-dasharray':dash});
  
  
}
function drawRec(g,kb,rate,xf,rf){
  const el=make('polyline',g);
  put(el,{points:kb.map((k,i)=>xf(k)+','+rf(rate[i])).join(' '),fill:'none',stroke:'#4b5cc4','stroke-width':1.2});
  
  
}
function drawBaseline(g,left,right,y){
  const el=make('line',g);
  put(el,{x1:left,x2:right,y1:y,y2:y,stroke:'#9a9a9a','stroke-width':2.2});
  
  
}
function drawGenes(g,xf,starts,ends,ys,exons){
  starts.forEach((s,i)=>{
    const el=make('line',g);
    put(el,{x1:xf(s),x2:xf(ends[i]),y1:ys[i],y2:ys[i],stroke:'#2e3192','stroke-width':2.2});
    
    
    exons[i].forEach(k=>{
      const ex=make('line',g);
      put(ex,{x1:xf(k),x2:xf(k),y1:ys[i]-6,y2:ys[i]+6,stroke:'#2e3192','stroke-width':1.6});
      
      
    });
  });
}
function drawLegend(g,titleX,titleY,barX,barTop,barH){
  const t=make('text',g);
  put(t,{x:titleX,y:titleY,'font-size':17,fill:'#111'});
  t.textContent='LD (r²)';
  
  
  const segH=barH/ldColors.length;
  ldColors.forEach((c,i)=>{
    const r=make('rect',g);
    put(r,{x:barX,y:barTop+i*segH,width:13.5,height:segH,fill:c,stroke:'#444','stroke-width':0.5});
    
    
  });
  ldLabels.forEach((s,i)=>{
    const l=make('text',g);
    put(l,{x:barX+19,y:barTop+i*segH+4.5,'font-size':12.5,fill:'#222'});
    l.textContent=s;
    
    
  });
}

/* Panel B */
const pb=document.getElementById('panelB');
const B_R=4.2,C_R=4.7;
drawFrame(pb,79.6,1883.5,xB,yB,bTickKb,bTickLabels,71,1206.5,14,'12 8');
drawRec(pb,bRecKb,bRecRate,xB,recB);
drawBaseline(pb,79.6,1883.5,1190);
drawDots(pb,bGreyKb,bGreyLog,xB,yB,'#a3a3a3','#777',B_R);
drawDots(pb,bNavyKb,bNavyLog,xB,yB,NAVY,'#33307a',B_R);
drawDots(pb,bCyanKb,bCyanLog,xB,yB,ldColors[3],'#557',B_R);
drawDots(pb,bGreenKb,bGreenLog,xB,yB,ldColors[2],'#567',B_R);
drawDots(pb,bOrangeKb,bOrangeLog,xB,yB,ldColors[1],'#765',B_R);
drawDots(pb,bRedKb,bRedLog,xB,yB,ldColors[0],'#744',B_R);
drawDiamond(pb,bLeadKb,bLeadLog,xB,yB);
drawGenes(pb,xB,bGeneStart,bGeneEnd,bGeneY,bGeneExons);
drawLegend(pb,1806,981.7,1821,989.3,89.7);

/* Panel C */
const pc=document.getElementById('panelC');
drawFrame(pc,68.6,1886,xC,yC,cTickKb,cTickLabels,58,1753,15,'13 10');
drawBaseline(pc,68.6,1886,1734.7);
drawRec(pc,cRecKb,cRecRate,xC,recC);
const runColors=[NAVY,'#2b2560',ldColors[3],ldColors[2],'#3f6b2c'];
cRunStart.forEach((s,i)=>{
  const el=make('line',pc);
  put(el,{x1:xC(s),x2:xC(cRunEnd[i]),y1:yC(cRunLog[i]),y2:yC(cRunLog[i]),stroke:runColors[cRunLdClass[i]],'stroke-width':9.8,'stroke-linecap':'round'});
  
  
});
drawDots(pc,cNavyKb,cNavyLog,xC,yC,NAVY,'#2b2a6b',C_R);
drawDots(pc,cGreyKb,cGreyLog,xC,yC,'#a3a3a3','#666',C_R);
drawDots(pc,cCyanKb,cCyanLog,xC,yC,ldColors[3],'#345',C_R);
drawDots(pc,cGreenKb,cGreenLog,xC,yC,ldColors[2],'#453',C_R);
drawDots(pc,cOrangeKb,cOrangeLog,xC,yC,ldColors[1],'#654',C_R);
drawDiamond(pc,cLeadKb,cLeadLog,xC,yC);
drawGenes(pc,xC,cGeneStart,cGeneEnd,cGeneY,cGeneExons);
drawLegend(pc,1800,1491.7,1816,1500.3,89.4);
</script>
</body>
</html>
